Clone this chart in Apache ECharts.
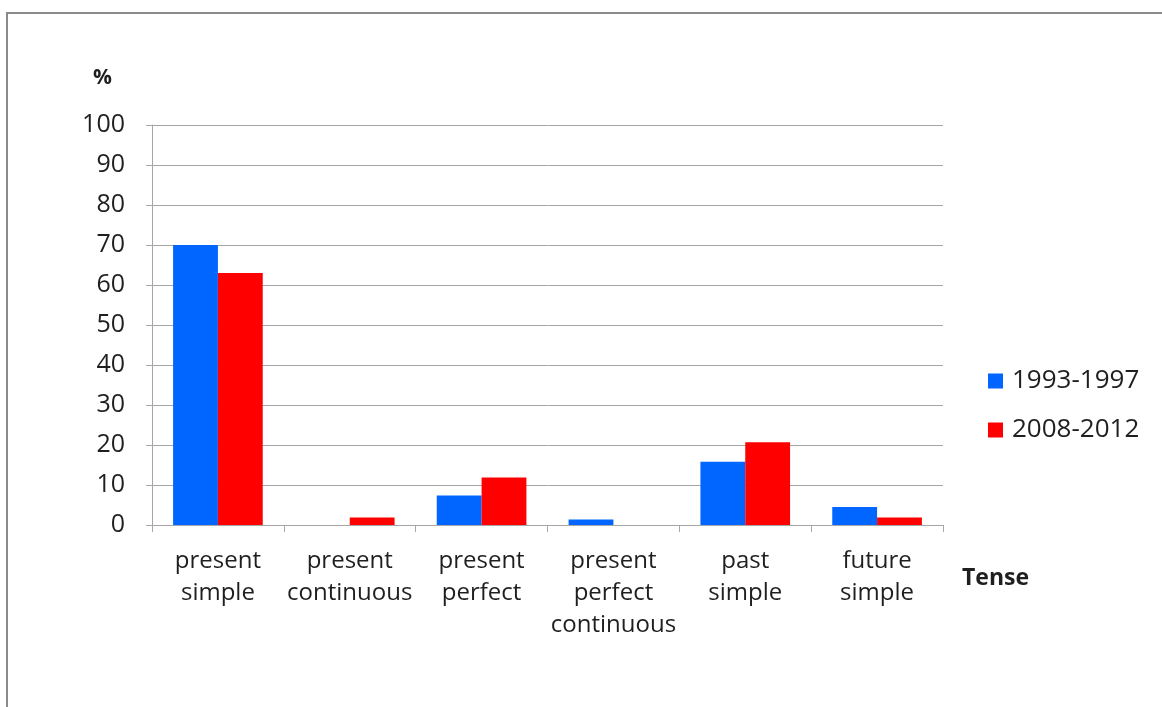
<!DOCTYPE html>
<html>
<head>
<meta charset="utf-8">
<title>Tense usage</title>
<script src="https://cdn.jsdelivr.net/npm/echarts@6/dist/echarts.min.js"></script>
<style>
  html, body { margin: 0; padding: 0; background: #ffffff; }
  #chart { width: 1162px; height: 707px; }
</style>
</head>
<body>
<div id="chart"></div>
<script>
// Share of each tense (%) in the two periods
const categories = [
  'present\nsimple',
  'present\ncontinuous',
  'present\nperfect',
  'present\nperfect\ncontinuous',
  'past\nsimple',
  'future\nsimple'
];
const seriesNames = ['1993-1997', '2008-2012'];
const values1993 = [70, 0, 7.4, 1.4, 15.8, 4.5];
const values2008 = [63, 1.9, 11.9, 0, 20.7, 1.9];
const yTicks = [0, 10, 20, 30, 40, 50, 60, 70, 80, 90, 100];

const FONT = '"Open Sans", "Noto Sans", sans-serif';
const TEXT = '#1f1f1f';
const GRID_GRAY = '#a6a6a6';

const chart = echarts.init(document.getElementById('chart'), null, { renderer: 'canvas' });

chart.setOption({
  backgroundColor: '#ffffff',
  animation: false,
  textStyle: { fontFamily: FONT },
  grid: { left: 152, right: 219, top: 125, bottom: 182, containLabel: false },
  legend: {
    orient: 'vertical',
    left: 988,
    top: 366,
    padding: 0,
    itemWidth: 15,
    itemHeight: 15,
    itemGap: 19,
    icon: 'rect',
    data: seriesNames,
    textStyle: {
      fontFamily: FONT, fontSize: 26, color: TEXT,
      lineHeight: 30, padding: [0, 0, 0, 4]
    }
  },
  xAxis: {
    type: 'category',
    data: categories,
    axisLine: { show: true, lineStyle: { color: GRID_GRAY, width: 1 } },
    axisTick: { show: true, length: 7, lineStyle: { color: GRID_GRAY } },
    axisLabel: {
      interval: 0, margin: 20,
      fontFamily: FONT, fontSize: 24, lineHeight: 32, color: TEXT
    },
    splitLine: { show: false }
  },
  yAxis: {
    type: 'value',
    min: yTicks[0],
    max: yTicks[yTicks.length - 1],
    interval: yTicks[1] - yTicks[0],
    axisLine: { show: true, lineStyle: { color: GRID_GRAY, width: 1 } },
    axisTick: { show: true, length: 6, inside: false, lineStyle: { color: GRID_GRAY } },
    axisLabel: {
      margin: 27,
      fontFamily: FONT, fontSize: 25, color: TEXT
    },
    splitLine: { show: true, lineStyle: { color: GRID_GRAY, width: 1 } }
  },
  series: [
    {
      name: seriesNames[0],
      type: 'bar',
      data: values1993,
      itemStyle: { color: '#0066ff' },
      barGap: '0%',
      barCategoryGap: '32%'
    },
    {
      name: seriesNames[1],
      type: 'bar',
      data: values2008,
      itemStyle: { color: '#ff0000' },
      barGap: '0%',
      barCategoryGap: '32%'
    }
  ],
  graphic: [
    {
      type: 'polyline',
      shape: { points: [[7, 720], [7, 13], [1170, 13]] },
      style: { stroke: '#8a8a8a', lineWidth: 2, fill: null },
      silent: true
    },
    {
      type: 'text',
      left: 93,
      top: 68,
      style: { text: '%', font: 'bold 21px ' + FONT, fill: TEXT }
    },
    {
      type: 'text',
      left: 962,
      top: 567,
      style: { text: 'Tense', font: 'bold 23px ' + FONT, fill: TEXT }
    }
  ]
});
</script>
</body>
</html>
